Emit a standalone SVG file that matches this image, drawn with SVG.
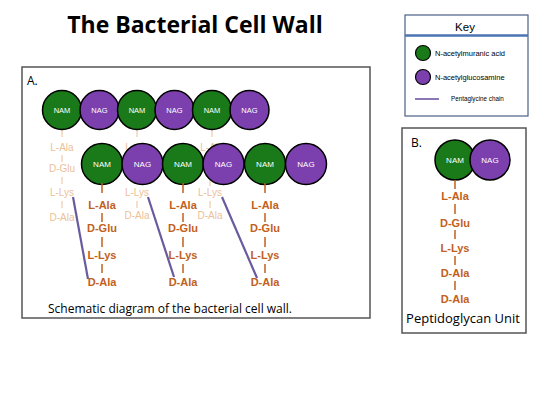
<svg xmlns="http://www.w3.org/2000/svg" width="550" height="413" viewBox="0 0 550 413">
<style>
.nam{fill:#1a7a1a;stroke:#000;stroke-width:1.5}
.nag{fill:#7c3fae;stroke:#000;stroke-width:1.5}
.lbl{font-family:"Liberation Sans",Arial,sans-serif;fill:#fff;text-anchor:middle}
.pep{font-family:"Liberation Sans",Arial,sans-serif;font-weight:bold;font-size:11px;fill:#c2601c;text-anchor:middle}
.fad{font-family:"Liberation Sans",Arial,sans-serif;font-size:10px;fill:#ecbf98;text-anchor:middle}
.bar{stroke:#c2601c;stroke-width:1.5}
.fbar{stroke:#ecbf98;stroke-width:1}
.chain{stroke:#6a5a9e;stroke-width:2.2;fill:none}
.box{fill:#fff;stroke:#555;stroke-width:1.5}
.cap{font-family:"Open Sans","Liberation Sans",sans-serif;fill:#000}
</style>
<rect width="550" height="413" fill="#fff"/>
<text x="195" y="33" font-family="Open Sans, Liberation Sans, sans-serif" font-weight="bold" font-size="23" text-anchor="middle" fill="#000">The Bacterial Cell Wall</text>

<g id="panelA">
<rect class="box" x="22" y="67" width="348" height="251"/>
<text x="27" y="85" class="cap" font-size="12">A.</text>
</g>

<g id="fadedChains">
<line class="fbar" x1="62" y1="128" x2="62" y2="137"/>
<text class="fad" x="62" y="151">L-Ala</text>
<line class="fbar" x1="62" y1="155" x2="62" y2="162"/>
<text class="fad" x="62" y="172">D-Glu</text>
<line class="fbar" x1="62" y1="177" x2="62" y2="184"/>
<text class="fad" x="62" y="196">L-Lys</text>
<line class="fbar" x1="62" y1="201" x2="62" y2="208"/>
<text class="fad" x="62" y="221">D-Ala</text>
<line class="fbar" x1="137" y1="128" x2="137" y2="137"/>
<text class="fad" x="137" y="151">L-Ala</text>
<text class="fad" x="137" y="196">L-Lys</text>
<line class="fbar" x1="137" y1="201" x2="137" y2="208"/>
<text class="fad" x="137" y="219">D-Ala</text>
<line class="fbar" x1="212" y1="128" x2="212" y2="137"/>
<text class="fad" x="212" y="151">L-Ala</text>
<line class="fbar" x1="210" y1="180" x2="210" y2="186"/>
<text class="fad" x="210" y="196">L-Lys</text>
<line class="fbar" x1="210" y1="201" x2="210" y2="208"/>
<text class="fad" x="210" y="219">D-Ala</text>
</g>

<g id="row1">
<circle class="nam" cx="62" cy="110" r="19.5"/><text class="lbl" x="62" y="113" font-size="7.5">NAM</text>
<circle class="nag" cx="99.5" cy="110" r="19.5"/><text class="lbl" x="99.5" y="113" font-size="7.5">NAG</text>
<circle class="nam" cx="137" cy="110" r="19.5"/><text class="lbl" x="137" y="113" font-size="7.5">NAM</text>
<circle class="nag" cx="174.5" cy="110" r="19.5"/><text class="lbl" x="174.5" y="113" font-size="7.5">NAG</text>
<circle class="nam" cx="212" cy="110" r="19.5"/><text class="lbl" x="212" y="113" font-size="7.5">NAM</text>
<circle class="nag" cx="249.5" cy="110" r="19.5"/><text class="lbl" x="249.5" y="113" font-size="7.5">NAG</text>
</g>

<g id="row2">
<circle class="nam" cx="102" cy="164" r="20.5"/><text class="lbl" x="102" y="167" font-size="8">NAM</text>
<circle class="nag" cx="142.5" cy="164" r="20.5"/><text class="lbl" x="142.5" y="167" font-size="8">NAG</text>
<circle class="nam" cx="183" cy="164" r="20.5"/><text class="lbl" x="183" y="167" font-size="8">NAM</text>
<circle class="nag" cx="223.5" cy="164" r="20.5"/><text class="lbl" x="223.5" y="167" font-size="8">NAG</text>
<circle class="nam" cx="265" cy="164" r="20.5"/><text class="lbl" x="265" y="167" font-size="8">NAM</text>
<circle class="nag" cx="306" cy="164" r="20.5"/><text class="lbl" x="306" y="167" font-size="8">NAG</text>
</g>

<g id="chains">
<line class="bar" x1="102" y1="183" x2="102" y2="193"/>
<text class="pep" x="102" y="209">L-Ala</text>
<line class="bar" x1="102" y1="213" x2="102" y2="222"/>
<text class="pep" x="102" y="232">D-Glu</text>
<line class="bar" x1="102" y1="237" x2="102" y2="247"/>
<text class="pep" x="102" y="259">L-Lys</text>
<line class="bar" x1="102" y1="264" x2="102" y2="273"/>
<text class="pep" x="102" y="286">D-Ala</text>
<line class="bar" x1="183" y1="183" x2="183" y2="193"/>
<text class="pep" x="183" y="209">L-Ala</text>
<line class="bar" x1="183" y1="213" x2="183" y2="222"/>
<text class="pep" x="183" y="232">D-Glu</text>
<line class="bar" x1="183" y1="237" x2="183" y2="247"/>
<text class="pep" x="183" y="259">L-Lys</text>
<line class="bar" x1="183" y1="264" x2="183" y2="273"/>
<text class="pep" x="183" y="286">D-Ala</text>
<line class="bar" x1="265" y1="183" x2="265" y2="193"/>
<text class="pep" x="265" y="209">L-Ala</text>
<line class="bar" x1="265" y1="213" x2="265" y2="222"/>
<text class="pep" x="265" y="232">D-Glu</text>
<line class="bar" x1="265" y1="237" x2="265" y2="247"/>
<text class="pep" x="265" y="259">L-Lys</text>
<line class="bar" x1="265" y1="264" x2="265" y2="273"/>
<text class="pep" x="265" y="286">D-Ala</text>
</g>

<g id="connectors">
<line class="chain" x1="73" y1="197" x2="88" y2="279"/>
<line class="chain" x1="148" y1="197" x2="174" y2="277"/>
<line class="chain" x1="222" y1="197" x2="257" y2="278"/>
</g>

<text x="48" y="313" class="cap" font-size="12">Schematic diagram of the bacterial cell wall.</text>

<g id="key">
<rect x="405" y="15" width="123" height="101" fill="#fff" stroke="#4a5f86" stroke-width="1.2"/>
<text x="465" y="31" font-family="Liberation Sans, Arial, sans-serif" font-size="11.5" text-anchor="middle" fill="#000">Key</text>
<line x1="405" y1="35.5" x2="528" y2="35.5" stroke="#4a74b4" stroke-width="2.5"/>
<circle cx="423" cy="53" r="7.5" fill="#1a7a1a" stroke="#000" stroke-width="1.2"/>
<text x="435" y="56" font-family="Liberation Sans, Arial, sans-serif" font-size="7.5" fill="#000">N-acetylmuranic acid</text>
<circle cx="423" cy="77" r="7.5" fill="#7c3fae" stroke="#000" stroke-width="1.2"/>
<text x="435" y="80" font-family="Liberation Sans, Arial, sans-serif" font-size="7.5" fill="#000">N-acetylglucosamine</text>
<line x1="415" y1="99" x2="439" y2="99" stroke="#8a78b4" stroke-width="2"/>
<text x="451" y="101" font-family="Liberation Sans, Arial, sans-serif" font-size="6.3" fill="#000">Pentaglycine chain</text>
</g>

<g id="panelB">
<rect class="box" x="402" y="128" width="124" height="205"/>
<text x="411" y="147" class="cap" font-size="12">B.</text>
<circle class="nam" cx="455" cy="160" r="20"/><text class="lbl" x="455" y="163" font-size="8">NAM</text>
<circle class="nag" cx="490" cy="160" r="20"/><text class="lbl" x="490" y="163" font-size="8">NAG</text>
<line class="bar" x1="455" y1="180" x2="455" y2="189"/>
<text class="pep" x="455" y="200">L-Ala</text>
<line class="bar" x1="455" y1="204" x2="455" y2="214"/>
<text class="pep" x="455" y="227">D-Glu</text>
<line class="bar" x1="455" y1="230" x2="455" y2="239"/>
<text class="pep" x="455" y="252">L-Lys</text>
<line class="bar" x1="455" y1="256" x2="455" y2="265"/>
<text class="pep" x="455" y="277">D-Ala</text>
<line class="bar" x1="455" y1="281" x2="455" y2="290"/>
<text class="pep" x="455" y="303">D-Ala</text>
<text x="463" y="323" class="cap" font-size="13" text-anchor="middle">Peptidoglycan Unit</text>
</g>
</svg>
